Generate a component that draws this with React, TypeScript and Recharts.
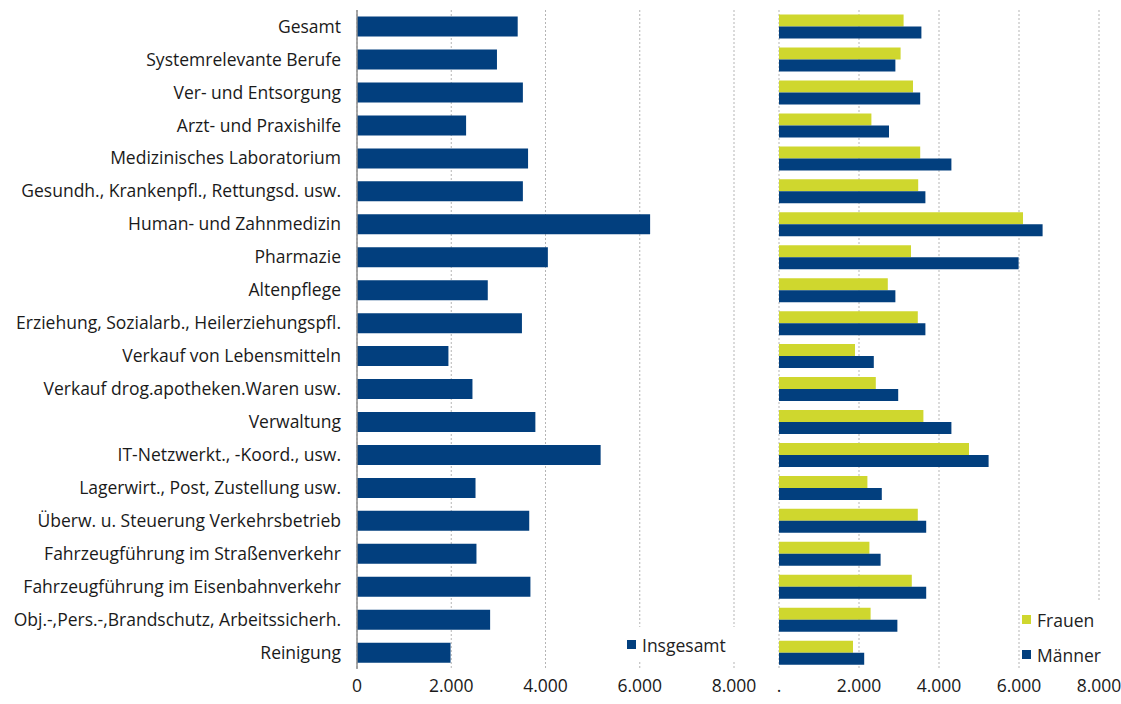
import { BarChart, Bar, XAxis, YAxis, CartesianGrid, Legend } from 'recharts';

const categories = [
  'Gesamt',
  'Systemrelevante Berufe',
  'Ver- und Entsorgung',
  'Arzt- und Praxishilfe',
  'Medizinisches Laboratorium',
  'Gesundh., Krankenpfl., Rettungsd. usw.',
  'Human- und Zahnmedizin',
  'Pharmazie',
  'Altenpflege',
  'Erziehung, Sozialarb., Heilerziehungspfl.',
  'Verkauf von Lebensmitteln',
  'Verkauf drog.apotheken.Waren usw.',
  'Verwaltung',
  'IT-Netzwerkt., -Koord., usw.',
  'Lagerwirt., Post, Zustellung usw.',
  'Überw. u. Steuerung Verkehrsbetrieb',
  'Fahrzeugführung im Straßenverkehr',
  'Fahrzeugführung im Eisenbahnverkehr',
  'Obj.-,Pers.-,Brandschutz, Arbeitssicherh.',
  'Reinigung',
];

const insgesamt = [
  3410, 2970, 3520, 2315, 3630, 3520, 6220, 4050, 2775, 3500,
  1940, 2450, 3785, 5170, 2515, 3655, 2535, 3680, 2825, 1985,
];
const frauen = [
  3115, 3040, 3350, 2310, 3530, 3480, 6100, 3300, 2720, 3470,
  1900, 2420, 3610, 4750, 2210, 3470, 2260, 3320, 2290, 1850,
];
const maenner = [
  3560, 2910, 3530, 2750, 4310, 3660, 6590, 5990, 2910, 3660,
  2370, 2980, 4310, 5240, 2570, 3680, 2540, 3680, 2960, 2130,
];

const xTicks = [0, 2000, 4000, 6000, 8000];

const NAVY = '#023f7e';
const LIME = '#cfd72e';
const FONT = '"Open Sans", sans-serif';
const FS = 17.5;

const rows = categories.map((name, i) => ({
  name,
  insgesamt: insgesamt[i],
  frauen: frauen[i],
  maenner: maenner[i],
}));

const fmt = (v: number) => String(v).replace(/\B(?=(\d{3})+(?!\d))/g, '.');

function LegendBox({ items }: { items: Array<{ label: string; color: string }> }) {
  return (
    <div style={{ background: '#fff', fontFamily: FONT, fontSize: FS, color: '#222' }}>
      {items.map((it) => (
        <div key={it.label} style={{ display: 'flex', alignItems: 'center', height: 35 }}>
          <span style={{ width: 9, height: 9, background: it.color, marginRight: 6, display: 'inline-block' }} />
          <span>{it.label}</span>
        </div>
      ))}
    </div>
  );
}

export default function App() {
  return (
    <div style={{ position: 'absolute', left: 0, top: 0, width: 1121, height: 704, background: '#fff' }}>
      <div style={{ position: 'absolute', left: 0, top: 0 }}>
        <BarChart
          width={780}
          height={704}
          data={rows}
          layout="vertical"
          margin={{ top: 10, right: 46, bottom: 0, left: 0 }}
          barCategoryGap="20%"
        >
          <CartesianGrid horizontal={false} strokeDasharray="2 2" stroke="#b5b5b5" />
          <XAxis
            type="number"
            domain={[0, 8000]}
            ticks={xTicks}
            tickFormatter={fmt}
            axisLine={false}
            tickLine={false}
            tickSize={0}
            tickMargin={11}
            height={35}
            tick={{ fill: '#1a1a1a', fontSize: FS, fontFamily: FONT }}
          />
          <YAxis
            type="category"
            dataKey="name"
            width={357}
            interval={0}
            axisLine={{ stroke: '#8c8c8c', strokeWidth: 1.5 }}
            tickLine={false}
            tickSize={0}
            tickMargin={16}
            tick={{ fill: '#1a1a1a', fontSize: FS, fontFamily: FONT }}
          />
          <Bar dataKey="insgesamt" name="Insgesamt" fill={NAVY} isAnimationActive={false} />
          <Legend
            layout="vertical"
            align="center"
            verticalAlign="middle"
            wrapperStyle={{ left: 627, top: 627, width: 108 }}
            content={() => <LegendBox items={[{ label: 'Insgesamt', color: NAVY }]} />}
          />
        </BarChart>
      </div>
      <div style={{ position: 'absolute', left: 746, top: 0 }}>
        <BarChart
          width={375}
          height={704}
          data={rows}
          layout="vertical"
          margin={{ top: 10, right: 22, bottom: 0, left: 33 }}
          barCategoryGap="14%"
          barGap={0}
        >
          <CartesianGrid horizontal={false} strokeDasharray="2 2" stroke="#b5b5b5" />
          <XAxis
            type="number"
            domain={[0, 8000]}
            ticks={xTicks}
            tickFormatter={(v: number) => (v === 0 ? '.' : fmt(v))}
            axisLine={false}
            tickLine={false}
            tickSize={0}
            tickMargin={11}
            height={35}
            tick={{ fill: '#1a1a1a', fontSize: FS, fontFamily: FONT }}
          />
          <YAxis type="category" dataKey="name" hide />
          <Bar dataKey="frauen" name="Frauen" fill={LIME} isAnimationActive={false} />
          <Bar dataKey="maenner" name="Männer" fill={NAVY} isAnimationActive={false} />
          <Legend
            layout="vertical"
            align="center"
            verticalAlign="middle"
            wrapperStyle={{ left: 276, top: 602, width: 90 }}
            content={() => (
              <LegendBox
                items={[
                  { label: 'Frauen', color: LIME },
                  { label: 'Männer', color: NAVY },
                ]}
              />
            )}
          />
        </BarChart>
      </div>
    </div>
  );
}
